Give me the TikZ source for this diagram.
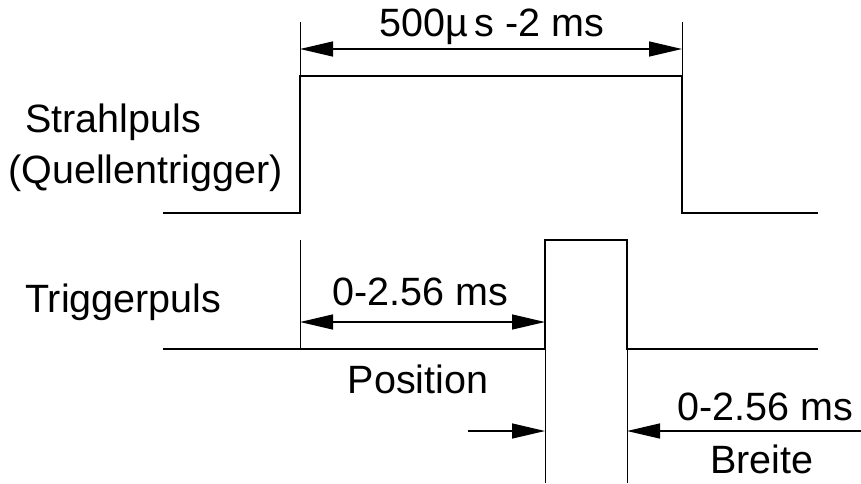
\documentclass[tikz,border=0pt]{standalone}
\usepackage{fontspec}
\setmainfont{Liberation Sans}
\usetikzlibrary{arrows.meta}
\tikzset{
wave/.style = {line width=2pt},
guide/.style = {line width=1pt},
dim/.style = {line width=1.4pt},
lbl/.style = {inner sep=0pt, anchor=base, font=\fontsize{39.5}{46}\selectfont},
>={Triangle[length=33pt,width=15pt]}
}

\begin{document}
\begin{tikzpicture}[x=1pt,y=-1pt]
  \useasboundingbox (0,0) rectangle (861,483);

  % Strahlpuls
    \coordinate (sLow1) at (163,213);
    \coordinate (sRise) at (300,213);
    \coordinate (sTop1) at (300,76);
    \coordinate (sTop2) at (682,76);
    \coordinate (sFall) at (682,213);
    \coordinate (sLow2) at (818,213);
    \draw[wave] (sLow1) -- (sRise) -- (sTop1) -- (sTop2) -- (sFall) -- (sLow2);

  % Triggerpuls
    \coordinate (tLow1) at (163,349);
    \coordinate (tRise) at (545,349);
    \coordinate (tTop1) at (545,240);
    \coordinate (tTop2) at (627,240);
    \coordinate (tFall) at (627,349);
    \coordinate (tLow2) at (818,349);
    \draw[wave] (tLow1) -- (tRise) -- (tTop1) -- (tTop2) -- (tFall) -- (tLow2);

  % Hilfslinien
    \coordinate (gA) at (300,22);
    \coordinate (gB) at (682,22);
    \coordinate (gC) at (300,240);
    \coordinate (gD) at (300,349);
    \coordinate (gE) at (545,483);
    \coordinate (gF) at (627,483);
    \draw[guide] (gA) -- (sTop1);
    \draw[guide] (gB) -- (sTop2);
    \draw[guide] (gC) -- (gD);
    \draw[guide] (tRise) -- (gE);
    \draw[guide] (tFall) -- (gF);

  % Masspfeile
    \coordinate (dLen1) at (300,49);
    \coordinate (dLen2) at (682,49);
    \coordinate (dPos1) at (300,322);
    \coordinate (dPos2) at (545,322);
    \coordinate (dIn1) at (468,431);
    \coordinate (dIn2) at (545,431);
    \coordinate (dOut1) at (861,431);
    \coordinate (dOut2) at (627,431);
    \draw[dim,<->] (dLen1) -- (dLen2);
    \draw[dim,<->] (dPos1) -- (dPos2);
    \draw[dim,->] (dIn1) -- (dIn2);
    \draw[dim,->] (dOut1) -- (dOut2);

  % Texte
    \node[lbl] (lenText) at (492,36) {500µ\,s -2 ms};
    \node[lbl] (posText) at (420,305) {0-2.56 ms};
    \node[lbl] (posName) at (418,393) {Position};
    \node[lbl] (widText) at (765,420) {0-2.56 ms};
    \node[lbl] (widName) at (762,473) {Breite};
    \node[lbl, anchor=base west] (strahlName) at (25,132) {Strahlpuls};
    \node[lbl, anchor=base west] (quelleName) at (8,183) {(Quellentrigger)};
    \node[lbl, anchor=base west] (triggerName) at (25,312) {Triggerpuls};
  \end{tikzpicture}
\end{document}
